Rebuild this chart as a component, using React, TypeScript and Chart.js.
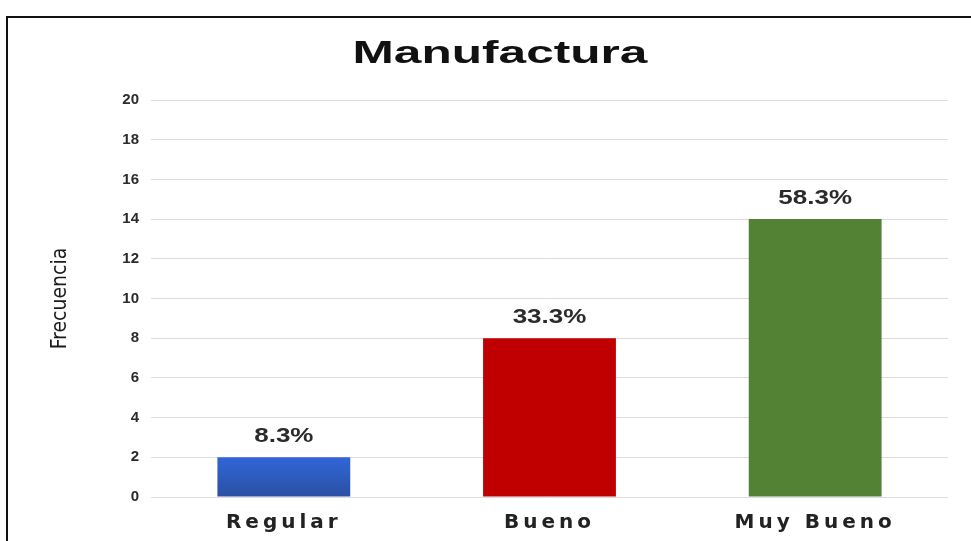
import React, { useEffect, useRef } from "react";
import { Chart, registerables } from "chart.js";

Chart.register(...registerables);

const chartTitle = "Manufactura";
const yAxisTitle = "Frecuencia";
const categories = ["Regular", "Bueno", "Muy Bueno"];
const frequencies = [2, 8, 14];
const percentLabels = ["8.3%", "33.3%", "58.3%"];
const yMin = 0;
const yMax = 20;
const yStep = 2;
const barColors = ["#2c5bc6", "#c00000", "#548235"];
const blueGradient = ["#3166d8", "#2a50a2"];

const W = 971;
const H = 541;

const decorPlugin = {
  id: "decor",
  afterDatasetsDraw(chart: any) {
    const ctx = chart.ctx as CanvasRenderingContext2D;
    const meta = chart.getDatasetMeta(0);
    ctx.save();
    ctx.font = 'bold 20px "Liberation Sans", Arial, sans-serif';
    ctx.fillStyle = "#2b2b2b";
    ctx.textAlign = "center";
    ctx.textBaseline = "middle";
    meta.data.forEach((bar: any, i: number) => {
      ctx.save();
      ctx.translate(bar.x, bar.y - 21);
      ctx.scale(1.3, 1);
      ctx.fillText(percentLabels[i], 0, 0);
      ctx.restore();
    });
    ctx.restore();
    // spacing for the x tick labels, drawn in the layer after the datasets
    (ctx as any).letterSpacing = "4px";
  },
  afterDraw(chart: any) {
    const ctx = chart.ctx as CanvasRenderingContext2D;
    (ctx as any).letterSpacing = "0px";
    ctx.save();
    ctx.font = 'bold 32px "Liberation Sans", Arial, sans-serif';
    ctx.fillStyle = "#111111";
    ctx.textAlign = "center";
    ctx.textBaseline = "middle";
    ctx.translate(500, 54);
    ctx.scale(1.55, 1);
    ctx.fillText(chartTitle, 0, 0);
    ctx.restore();
  },
};

export default function App() {
  const canvasRef = useRef<HTMLCanvasElement | null>(null);

  useEffect(() => {
    const canvas = canvasRef.current;
    if (!canvas) return;
    const chart = new Chart(canvas, {
      type: "bar",
      data: {
        labels: categories,
        datasets: [
          {
            data: frequencies,
            backgroundColor: (c: any) => {
              const i = c.dataIndex;
              if (i === 0 && c.chart.scales && c.chart.scales.y) {
                const ys = c.chart.scales.y;
                const top = ys.getPixelForValue(frequencies[0]);
                const bottom = ys.getPixelForValue(0);
                if (isFinite(top) && isFinite(bottom) && bottom > top) {
                  const g = c.chart.ctx.createLinearGradient(0, top, 0, bottom);
                  g.addColorStop(0, blueGradient[0]);
                  g.addColorStop(1, blueGradient[1]);
                  return g;
                }
              }
              return barColors[i];
            },
            borderWidth: 0,
            categoryPercentage: 1,
            barPercentage: 0.5,
          },
        ],
      },
      options: {
        responsive: false,
        animation: false,
        layout: { padding: { top: 100, right: 23, left: 0, bottom: 0 } },
        plugins: {
          legend: { display: false },
          tooltip: { enabled: false },
          title: { display: false },
        },
        scales: {
          x: {
            grid: { display: false, drawTicks: false },
            border: { display: false },
            ticks: {
              z: 1,
              padding: 14,
              color: "#222222",
              font: { family: '"DejaVu Sans", sans-serif', size: 20, weight: "bold" },
            },
            afterFit: (s: any) => {
              s.height = 44;
            },
          },
          y: {
            min: yMin,
            max: yMax,
            ticks: {
              stepSize: yStep,
              padding: 12,
              color: "#2a2a2a",
              font: { family: '"Liberation Sans", Arial, sans-serif', size: 15, weight: "bold" },
            },
            grid: { color: "#dcdcdc", lineWidth: 1, drawTicks: false },
            border: { display: false },
            title: {
              display: true,
              text: yAxisTitle,
              color: "#1a1a1a",
              padding: { top: 48, bottom: 0 },
              font: { family: '"DejaVu Sans Condensed", "Liberation Sans Narrow", sans-serif', size: 21 },
            },
            afterFit: (s: any) => {
              s.width = 151;
            },
          },
        },
      },
      plugins: [decorPlugin],
    });
    return () => chart.destroy();
  }, []);

  return (
    <div style={{ position: "fixed", left: 0, top: 0, width: W, height: H, background: "#ffffff" }}>
      <div
        style={{
          position: "absolute",
          left: 6,
          top: 16,
          right: 0,
          bottom: 0,
          borderTop: "2px solid #111",
          borderLeft: "2px solid #111",
        }}
      />
      <canvas ref={canvasRef} width={W} height={H} style={{ position: "absolute", left: 0, top: 0, width: W, height: H }} />
    </div>
  );
}
